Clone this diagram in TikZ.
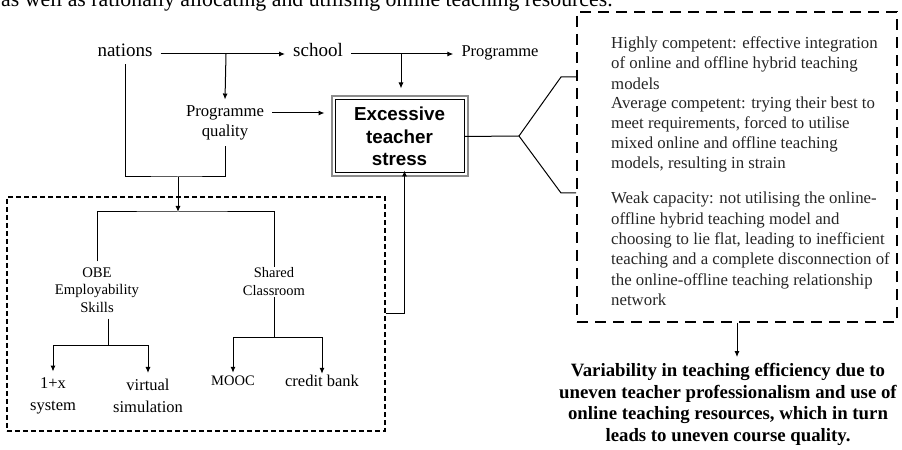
\documentclass[tikz,border=0pt]{standalone}
\usepackage{fontspec}
\setmainfont{Liberation Serif}
\setsansfont{Liberation Sans}
\usetikzlibrary{calc,arrows.meta}
\def\setfs#1#2{\fontsize{#1bp}{#2bp}\selectfont}

\tikzset{
	lbl/.style={inner xsep=8bp, inner ysep=6bp, align=center},
	word/.style={lbl, text height=1.5ex, text depth=.25ex},
	ln/.style={line width=1bp},
	arr/.style={line width=1bp, -{Latex[length=6bp,width=5bp]}},
	rtxt/.style={anchor=west, inner sep=0pt, align=left, text=black!85, font=\setfs{16.8}{20.3}},
}

\begin{document}
\begin{tikzpicture}[x=1bp, y=-1bp]
		%%%%% START %%%%%
		\useasboundingbox (0,0) rectangle (902,450);
		
		\node[anchor=base west, inner sep=0pt, font=\setfs{21.8}{26}] (cut) at (1,7) {as well as rationally allocating and utilising online teaching resources.};
		
		% top row
		\node[word, font=\setfs{19}{23}] (nations) at (125,54) {nations};
		\node[word, font=\setfs{19}{23}] (school) at (318,54) {school};
		\node[word, font=\setfs{16.5}{20}] (prog) at (500,54) {Programme};
		\node[lbl, font=\setfs{16.7}{20}] (pq) at (225,123) {Programme\\quality};
		
		\node[draw, line width=1bp, minimum width=129bp, minimum height=73bp, align=center, font=\sffamily\bfseries\setfs{18.8}{22.5}] (stress) at (399.5,136.5) {Excessive\\teacher\\stress};
		\draw[black!45, line width=2bp] ($(stress.north west)+(-3,-3)$) rectangle ($(stress.south east)+(3,3)$);
		
		\coordinate (j1) at (226,54);
		\coordinate (j2) at (401,54);
		\draw[arr] (nations) -- (school);
		\draw[arr] (school) -- (prog);
		\draw[arr] (j1) -- (pq.north);
		\draw[arr, shorten >=11bp] (j2) -- (j2 |- stress.north);
		\draw[arr, shorten >=10bp] ([yshift=10bp]pq.east) -- ([yshift=10bp]pq.east -| stress.west);
		
		% lower left pool
		\node[draw, line width=1.2bp, dash pattern=on 5bp off 3bp, minimum width=378bp, minimum height=234bp] (pool) at (196,314) {};
		
		\coordinate (j3) at (178,177);
		\coordinate (bar) at (178,212);
		\draw[ln] (nations.south) |- (j3) -| (pq.south);
		\draw[arr] (j3) -- (bar);
		
		\node[lbl, font=\setfs{14.7}{17.6}] (obe) at (97,290) {OBE\\Employability\\Skills};
		\node[lbl, inner ysep=1bp, font=\setfs{14.5}{18}] (shared) at (274,282) {Shared\\Classroom};
		\draw[ln] (obe.north) |- (bar) -| (shared.north);
		
		\node[lbl, font=\setfs{16.5}{22}] (onex) at (53,396) {1+x\\system};
		\node[lbl, font=\setfs{16.5}{22}] (virt) at (148,396) {virtual\\simulation};
		\node[word, font=\setfs{14.5}{18}] (mooc) at (233,383) {MOOC};
		\node[word, font=\setfs{16.5}{20}] (credit) at (322,384) {credit bank};
		
		\draw[ln] ([xshift=11bp]obe.south) -- ++(0,27) coordinate (obej);
		\draw[arr] (obej) -| (onex.north);
		\draw[arr] (obej) -| (virt.north);
		\draw[ln] (shared.south) -- ++(0,40) coordinate (shj);
		\draw[arr] (shj) -| (mooc.north);
		\draw[arr] (shj) -| (credit.north);
		
		\draw[arr, shorten >=-3bp] (pool.east) -| ([xshift=5bp]stress.south);
		
		% right side
		\node[draw, line width=2bp, dash pattern=on 11bp off 7bp, minimum width=320bp, minimum height=310bp] (rbox) at (737,167) {};
		
		\coordinate (fork) at (519,136);
		\coordinate (fu) at (561,77);
		\coordinate (fd) at (561,193);
		\draw[ln] (stress.east) -- (fork);
		\draw[ln] (fork) -- (fu) -- (fu -| rbox.west);
		\draw[ln] (fork) -- (fd) -- (fd -| rbox.west);
		
		\node[rtxt] (high) at (611,63) {Highly competent: effective integration\\of online and offline hybrid teaching\\models};
		\node[rtxt] (avg) at (611,134.5) {Average competent: trying their best to\\meet requirements, forced to utilise\\mixed online and offline teaching\\models, resulting in strain};
		\node[rtxt] (weak) at (611,249) {Weak capacity: not utilising the online-\\offline hybrid teaching model and\\choosing to lie flat, leading to inefficient\\teaching and a complete disconnection of\\the online-offline teaching relationship\\network};
		
		\node[lbl, font=\bfseries\setfs{18.8}{21.7}] (concl) at (728,404.5) {Variability in teaching efficiency due to\\uneven teacher professionalism and use of\\online teaching resources, which in turn\\leads to uneven course quality.};
		\draw[arr] (rbox.south) -- (rbox.south |- concl.north);
		
		%%%%% END %%%%%
	\end{tikzpicture}
\end{document}
